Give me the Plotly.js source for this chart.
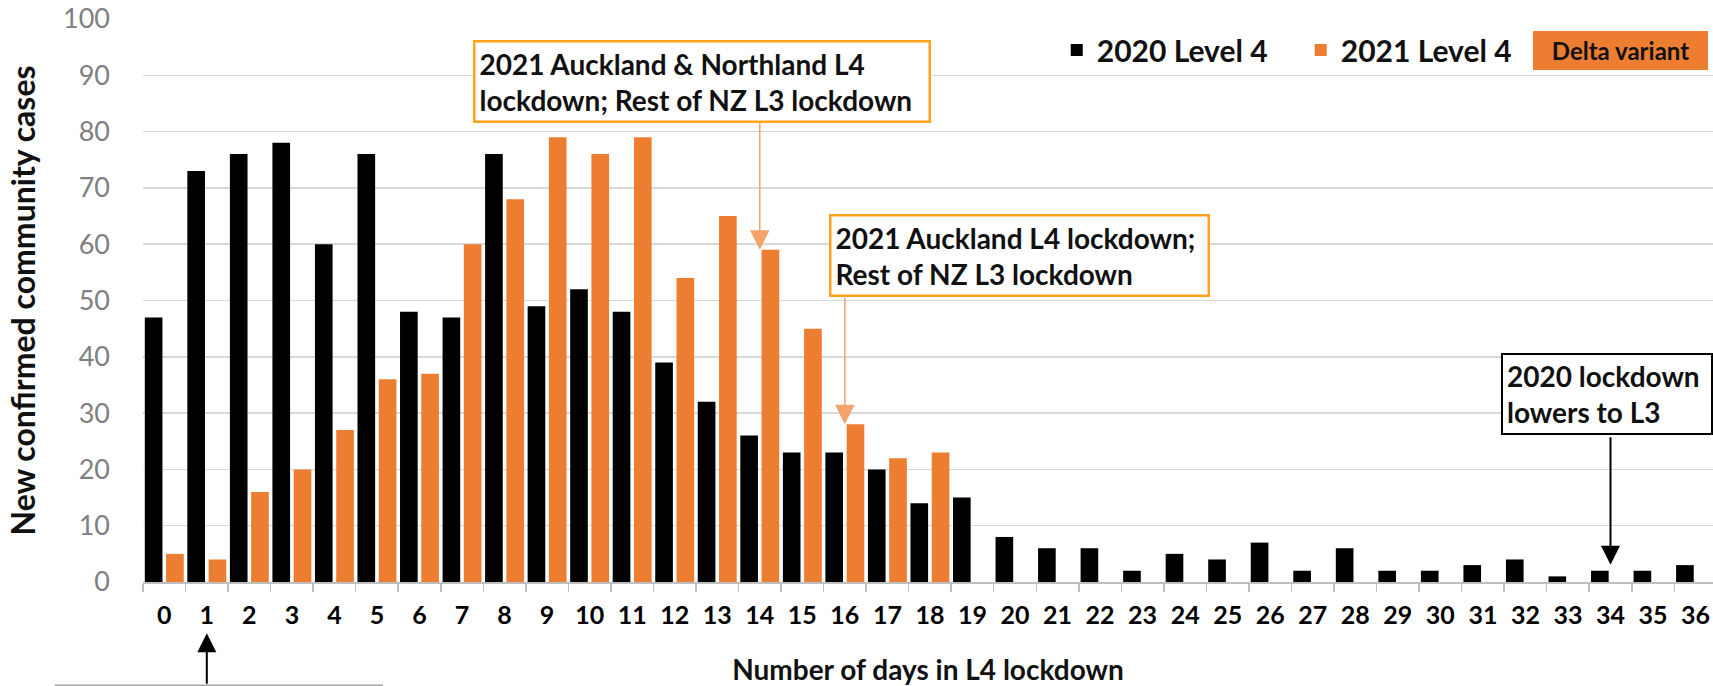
<!DOCTYPE html>
<html>
<head>
<meta charset="utf-8">
<script src="https://cdn.plot.ly/plotly-3.0.1.min.js"></script>
<style>html,body{margin:0;padding:0;background:#fff;}#chart{width:1713px;height:686px;}</style>
</head>
<body>
<div id="chart"></div>
<script>
// ---- data ----
const days = ["0","1","2","3","4","5","6","7","8","9","10","11","12","13","14","15","16","17","18","19","20","21","22","23","24","25","26","27","28","29","30","31","32","33","34","35","36"];
const cases2020 = [47,73,76,78,60,76,48,47,76,49,52,48,39,32,26,23,23,20,14,15,8,6,6,2,5,4,7,2,6,2,2,3,4,1,2,2,3];
const days2021 = ["0","1","2","3","4","5","6","7","8","9","10","11","12","13","14","15","16","17","18"];
const cases2021 = [5,4,16,20,27,36,37,60,68,79,76,79,54,65,59,45,28,22,23];
const seriesNames = ["2020 Level 4", "2021 Level 4"];
const yTicks = [0,10,20,30,40,50,60,70,80,90,100];

const FONT = "Lato, 'Open Sans', sans-serif";
const ORANGE = "#ED7D31";

const traces = [
  {type:"bar", name:seriesNames[0], x:days, y:cases2020, marker:{color:"#000000"}, hoverinfo:"x+y"},
  {type:"bar", name:seriesNames[1], x:days2021, y:cases2021, marker:{color:ORANGE}, hoverinfo:"x+y"}
];

const boxFont = {family:FONT, size:28, color:"#111111", weight:700};

const annotations = [
  // text boxes
  {xref:"paper", yref:"paper", x:0.3561, y:0.8895, xanchor:"center", yanchor:"middle", showarrow:false,
   text:"2021 Auckland &amp; Northland L4<br>lockdown; Rest of NZ L3 lockdown", align:"left",
   font:boxFont, bgcolor:"#ffffff", bordercolor:"#FFA31A", borderwidth:2.5, borderpad:4, width:445},
  {xref:"paper", yref:"paper", x:0.5585, y:0.5794, xanchor:"center", yanchor:"middle", showarrow:false,
   text:"2021 Auckland L4 lockdown;<br>Rest of NZ L3 lockdown", align:"left",
   font:boxFont, bgcolor:"#ffffff", bordercolor:"#FFA31A", borderwidth:2.5, borderpad:4, width:368},
  {xref:"paper", yref:"paper", x:1.0, y:0.3345, xanchor:"right", yanchor:"middle", showarrow:false,
   text:"2020 lockdown<br>lowers to L3", align:"left",
   font:boxFont, bgcolor:"#ffffff", bordercolor:"#000000", borderwidth:2, borderpad:4, width:200},
  {xref:"paper", yref:"paper", x:0.9413, y:0.9444, xanchor:"center", yanchor:"middle", showarrow:false,
   text:"Delta variant", align:"center",
   font:{family:FONT, size:24, color:"#111111", weight:700}, bgcolor:ORANGE, bordercolor:ORANGE, borderwidth:1, borderpad:4, width:165},
  // arrows
  {xref:"x", yref:"y", x:14, y:cases2021[14], text:"", showarrow:true, ax:0, ay:-128,
   arrowcolor:"#F3A36B", arrowwidth:1.5, arrowhead:2, arrowsize:2.6, standoff:0},
  {xref:"x", yref:"y", x:16, y:cases2021[16], text:"", showarrow:true, ax:0, ay:-128,
   arrowcolor:"#F3A36B", arrowwidth:1.5, arrowhead:2, arrowsize:2.6, standoff:0},
  {xref:"x", yref:"y", x:34, y:cases2020[34], text:"", showarrow:true, ax:0, ay:-135,
   arrowcolor:"#000000", arrowwidth:2, arrowhead:2, arrowsize:1.9, standoff:6},
  {xref:"x", yref:"paper", x:1, y:-0.0911, text:"", showarrow:true, ax:0, ay:52,
   arrowcolor:"#000000", arrowwidth:2, arrowhead:2, arrowsize:1.9, standoff:0}
];

const shapes = [
  {type:"rect", xref:"paper", yref:"paper", x0:-0.0558, x1:0.1524, y0:-0.1835, y1:-0.30,
   line:{color:"#a6a6a6", width:1.5}, fillcolor:"rgba(0,0,0,0)"}
];

const layout = {
  width:1713, height:686,
  margin:{l:142.7, r:0, t:18.7, b:104.3, pad:0},
  paper_bgcolor:"#ffffff", plot_bgcolor:"#ffffff",
  font:{family:FONT},
  barmode:"group", bargap:0, bargroupgap:0.17,
  showlegend:true,
  legend:{orientation:"h", x:0.582, xanchor:"left", y:0.945, yanchor:"middle",
          font:{family:FONT, size:30, color:"#111111", weight:700},
          bgcolor:"rgba(0,0,0,0)", borderwidth:0, entrywidth:199, entrywidthmode:"pixels", traceorder:"normal"},
  xaxis:{type:"category", range:[-0.5, 36.41], tickson:"boundaries", ticks:"outside", ticklen:8,
         tickcolor:"#bfbfbf", tickwidth:1.5, showline:true, linecolor:"#bfbfbf", linewidth:2,
         showgrid:false, zeroline:false, tickangle:0, ticklabelstandoff:10,
         tickfont:{family:FONT, size:25, color:"#000000", weight:700},
         title:{text:"Number of days in L4 lockdown", font:{family:FONT, size:28, color:"#111111", weight:700}, standoff:37}},
  yaxis:{range:[0,100], tickvals:yTicks, ticktext:yTicks.map(String), showgrid:true, gridcolor:"#d9d9d9", gridwidth:1.5,
         zeroline:false, showline:false, ticks:"", ticklabelstandoff:32,
         tickfont:{family:FONT, size:27, color:"#808080"},
         title:{text:"New confirmed community cases", font:{family:FONT, size:32, color:"#111111", weight:700}, standoff:17}},
  annotations:annotations,
  shapes:shapes
};

Plotly.newPlot("chart", traces, layout, {displayModeBar:false, staticPlot:true});
</script>
</body>
</html>
